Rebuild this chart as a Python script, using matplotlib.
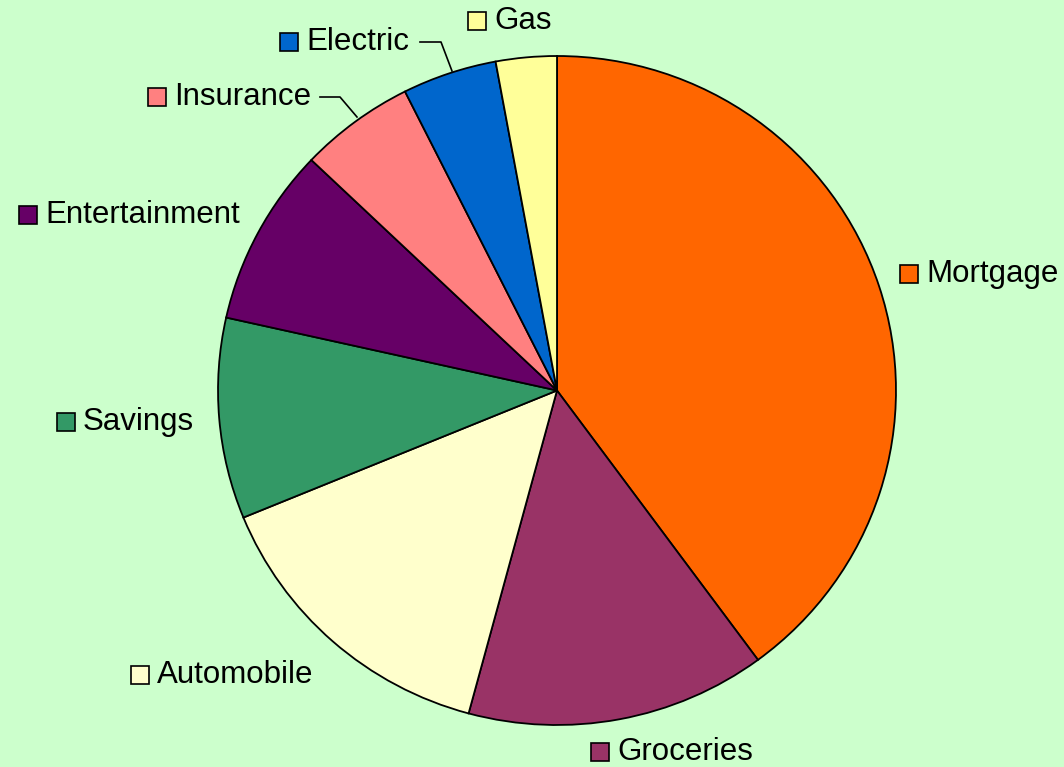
import matplotlib.pyplot as plt

labels = ['Mortgage', 'Groceries', 'Automobile', 'Savings', 'Entertainment',
          'Insurance', 'Electric', 'Gas']
values = [39.9, 14.3, 14.6, 9.7, 8.6, 5.5, 4.5, 2.9]
colors = ['#FF6600', '#993366', '#FFFFCC', '#339966', '#660066',
          '#FF8080', '#0066CC', '#FFFF99']

# label anchor (square marker position) in pixel coords, y from top
label_pos = {
    'Mortgage': (909, 274),
    'Groceries': (600, 752),
    'Automobile': (140, 675),
    'Savings': (66, 422),
    'Entertainment': (28, 215),
    'Insurance': (157, 97),
    'Electric': (289, 42),
    'Gas': (477, 21),
}

W, H = 1064, 767
bg = '#CCFFCC'
fig = plt.figure(figsize=(W / 100, H / 100), dpi=100, facecolor=bg)

# pie in its own axes (pixel box of the ellipse)
x0, x1, y0, y1 = 217, 897, 55, 726
pax = fig.add_axes([x0 / W, (H - y1) / H, (x1 - x0) / W, (y1 - y0) / H])
pax.pie(values, colors=colors, startangle=90, counterclock=False,
        radius=1, frame=True,
        wedgeprops=dict(edgecolor='black', linewidth=1.3))
pax.set_aspect('auto')
pax.set_xlim(-1.003, 1.003)
pax.set_ylim(-1.003, 1.003)
pax.axis('off')

ax = fig.add_axes([0, 0, 1, 1])
ax.patch.set_alpha(0)
ax.set_xlim(0, W)
ax.set_ylim(0, H)
ax.axis('off')

for name, col in zip(labels, colors):
    x, y = label_pos[name]
    ax.plot(x, H - y, marker='s', markersize=12.5, markerfacecolor=col,
            markeredgecolor='black', markeredgewidth=1.2)
    ax.text(x + 17, H - y, name, fontsize=22.5, family='Liberation Sans',
            va='center', ha='left', color='black')

# leader lines
ax.plot([420, 441, 452], [H - 42, H - 42, H - 71], color='black', lw=1.2)
ax.plot([320, 340, 357], [H - 97, H - 97, H - 117], color='black', lw=1.2)

fig.savefig('out.png', dpi=100, facecolor=bg)
